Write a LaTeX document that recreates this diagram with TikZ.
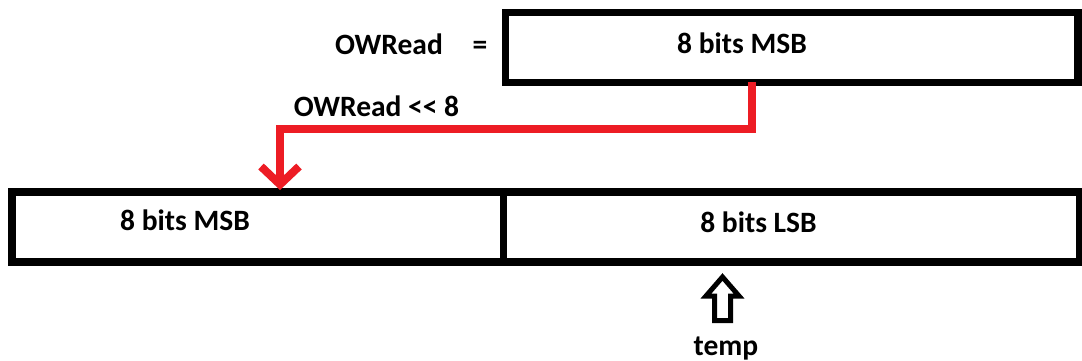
\documentclass[tikz,border=0pt]{standalone}
\usepackage{fontspec}
\setmainfont{Carlito}
\usetikzlibrary{arrows.meta}
\begin{document}
\begin{tikzpicture}[x=1pt,y=-1pt,
  box/.style={draw=black,line width=7.5pt,inner sep=0pt},
  lbl/.style={font=\fontsize{29.5}{35}\selectfont\bfseries,inner sep=0pt,anchor=base,text=black},
  redline/.style={draw={rgb,255:red,237;green,28;blue,36},line width=8pt},
  ]
\useasboundingbox (0,0) rectangle (1082,361);
\fill[white] (0,0) rectangle (1082,361);
% boxes
\node[box,minimum width=572.5pt,minimum height=70pt] (top) at (791.75,47.5) {};
\node[box,minimum width=491.5pt,minimum height=70pt] (msb) at (257.75,227) {};
\node[box,minimum width=576.5pt,minimum height=70pt] (lsb) at (791.75,227) {};
% labels
\node[lbl] (topt) at (742,54) {8 bits MSB};
\node[lbl] (owr) at (389,55) {OWRead};
\node[lbl] (eq) at (480,55) {=};
\node[lbl] (shift) at (376.5,117) {OWRead <\kern0pt< 8};
\node[lbl] (msbt) at (185,230) {8 bits MSB};
\node[lbl] (lsbt) at (758.5,232) {8 bits LSB};
\node[lbl] (temp) at (726,355) {temp};
% red connector
\coordinate (src) at (752,82.5);
\coordinate (dst) at (280,190);
\draw[redline,-{Straight Barb[length=18pt,width=38pt,line width=8pt]}] (src) |- (dst |- 0,129) -- (dst);
% temp block arrow
\draw[line width=5pt,line join=miter,fill=white] (722.5,277) -- (739,296) -- (730.5,296) -- (730.5,320.5) -- (714.5,320.5) -- (714.5,296) -- (706,296) -- cycle;
\end{tikzpicture}
\end{document}
